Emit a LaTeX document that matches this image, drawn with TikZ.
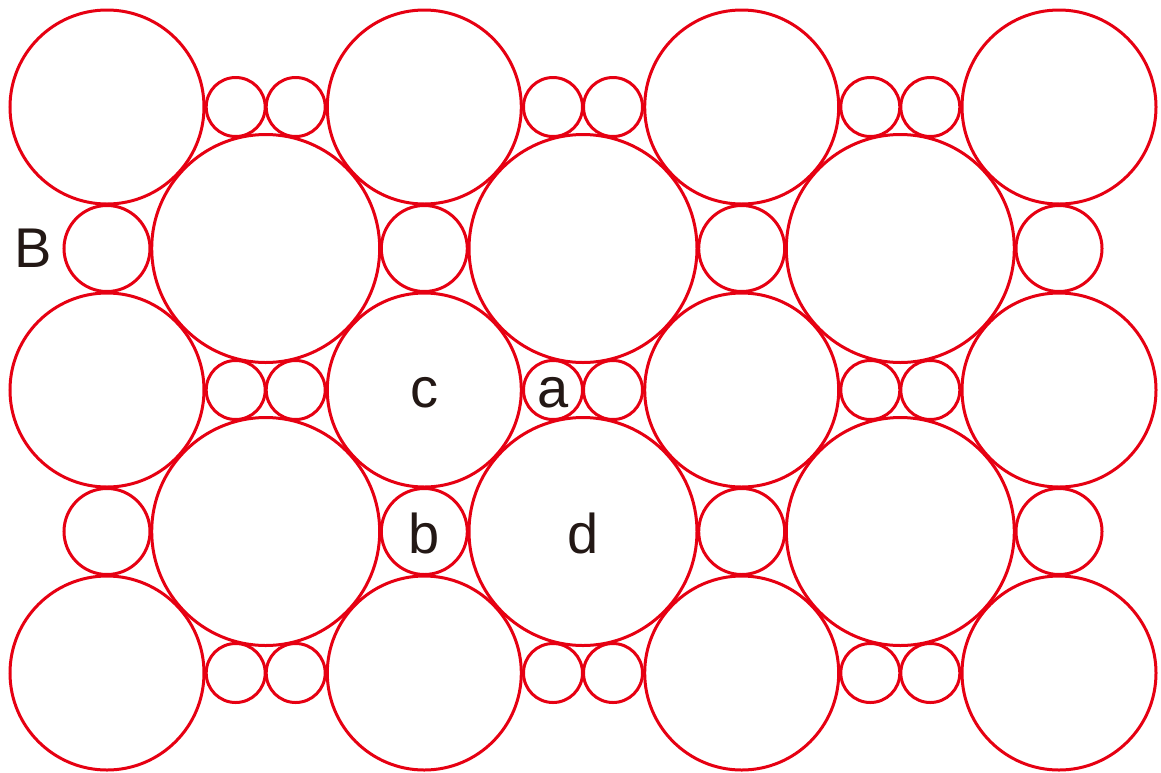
\documentclass[tikz,border=0pt]{standalone}
\usepackage{fontspec}
\setmainfont{Liberation Sans}
\definecolor{ballred}{RGB}{230,0,18}
\definecolor{ink}{RGB}{35,24,21}
\begin{document}
\begin{tikzpicture}
[x=1pt, y=-1pt, line width=3pt]
\tikzstyle{ball}=[draw=ballred]
\tikzstyle{letter}=[text=ink, inner sep=0pt, font=\fontsize{56}{60}\selectfont]
\useasboundingbox (0,0) rectangle (1161,772);
% large spheres in the three outer rows
\foreach \y in {107,390,673}
  \foreach \x in {107,424.3,741.7,1059}
    \draw[ball] (\x,\y) circle (97);
% large spheres in the two middle rows
\foreach \y in {248.5,531.5}
  \foreach \x in {265.7,583,900.3}
    \draw[ball] (\x,\y) circle (114);
% medium spheres
\foreach \y in {248.5,531.5}
  \foreach \x in {107,424.3,741.7,1059}
    \draw[ball] (\x,\y) circle (43);
% small sphere pairs
\foreach \y in {107,390,673}
  \foreach \x in {265.7,583,900.3} {
    \draw[ball] (\x-30,\y) circle (29.5);
    \draw[ball] (\x+30,\y) circle (29.5);
  }

\node[letter] (B) at (33.5,248.5) {B};
\node[letter] (a) at (553,393) {a};
\node[letter] (c) at (424.3,393) {c};
\node[letter] (b) at (424.3,533) {b};
\node[letter] (d) at (583,533) {d};
\end{tikzpicture}
\end{document}
